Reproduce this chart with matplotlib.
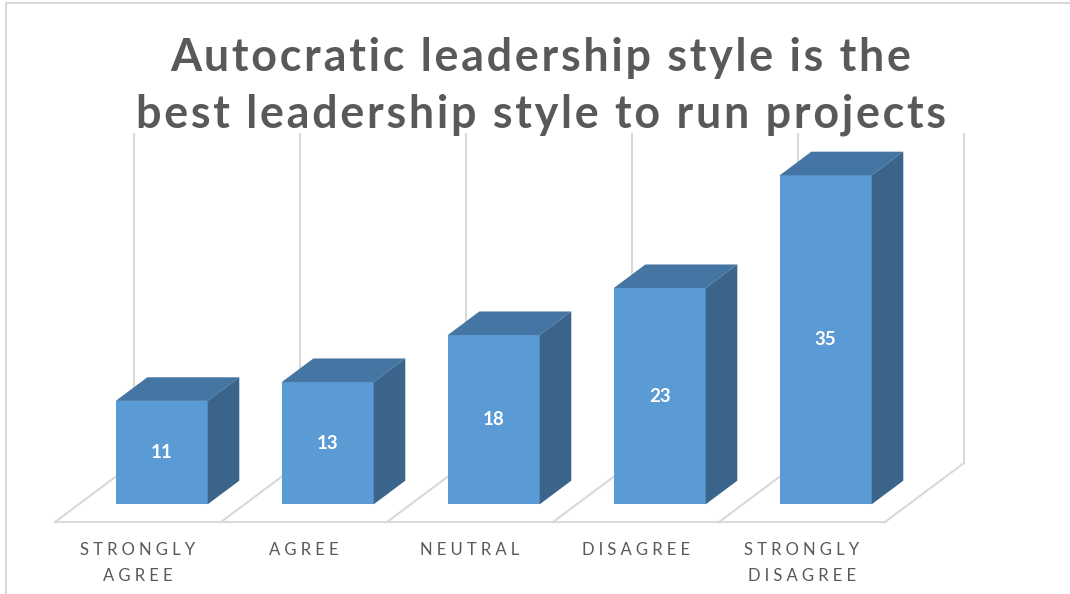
import matplotlib.pyplot as plt
from matplotlib.patches import Polygon, Rectangle

categories = ['STRONGLY\nAGREE', 'AGREE', 'NEUTRAL', 'DISAGREE', 'STRONGLY\nDISAGREE']
values = [11, 13, 18, 23, 35]
axis_max = 35
title = 'Autocratic leadership style is the\nbest leadership style to run projects'

front_color = '#5b9bd5'
top_color = '#4575a2'
side_color = '#3a6489'
grid_color = '#d9d9d9'
text_color = '#595959'

# fake excel 3d look: floor depth in (category, value) units, bar sits in the middle of it
depth_x = 0.476
depth_y = 6.28
bar_width = 0.554
bar_front, bar_back = 0.3, 0.7

fonts = ['Lato', 'DejaVu Sans']


def spaced(s, sp):
    return '\n'.join(sp.join(line) for line in s.split('\n'))


fig = plt.figure(figsize=(10.7, 5.94), dpi=100)
ax = fig.add_axes([0, 0, 1, 1])
# 166 px per category, 9.4 px per unit
ax.set_xlim(-0.5 - 55 / 166, -0.5 + 1015 / 166)
ax.set_ylim(-72 / 9.4, 522 / 9.4)
ax.axis('off')

# outer chart border (only top and left are inside the picture)
fig.patches.append(Rectangle((6 / 1070, -0.05), 1.2, 1.05 - 3 / 594, transform=fig.transFigure,
                             fill=False, edgecolor=grid_color, lw=1.5))

# floor and back wall
n = len(values)
edges = [i - 0.5 for i in range(n + 1)]
for e in edges:
    ax.plot([e, e + depth_x], [0, depth_y], color=grid_color, lw=1.5, zorder=1)
    ax.plot([e + depth_x, e + depth_x], [depth_y, depth_y + axis_max], color=grid_color, lw=1.5, zorder=1)
ax.plot([edges[0], edges[-1]], [0, 0], color=grid_color, lw=1.5, zorder=1)

dx = (bar_back - bar_front) * depth_x
dy = (bar_back - bar_front) * depth_y
for i, v in enumerate(values):
    x0 = i - bar_width / 2 + bar_front * depth_x
    x1 = x0 + bar_width
    y0 = bar_front * depth_y
    y1 = y0 + v
    ax.bar(x0, v, width=bar_width, bottom=y0, align='edge', color=front_color, zorder=3)
    ax.add_patch(Polygon([(x0, y1), (x1, y1), (x1 + dx, y1 + dy), (x0 + dx, y1 + dy)],
                         closed=True, facecolor=top_color, edgecolor='none', zorder=3))
    ax.add_patch(Polygon([(x1, y0), (x1 + dx, y0 + dy), (x1 + dx, y1 + dy), (x1, y1)],
                         closed=True, facecolor=side_color, edgecolor='none', zorder=3))
    ax.text((x0 + x1) / 2, y0 + v / 2, str(v), color='white', fontsize=13.5, fontweight='bold',
            family=fonts, ha='center', va='center', zorder=4)

for i, lab in enumerate(categories):
    ax.text(i, -2.1, spaced(lab, '\u2009\u200a\u200a'), color=text_color, fontsize=12, family=fonts,
            ha='center', va='top', linespacing=1.8)

fig.text(541 / 1070, 1 - 37 / 594, spaced(title, '\u200a'), color=text_color, fontsize=32.3,
         fontweight='bold', family=fonts, ha='center', va='top', linespacing=1.42)

plt.savefig('out.png', dpi=100)
